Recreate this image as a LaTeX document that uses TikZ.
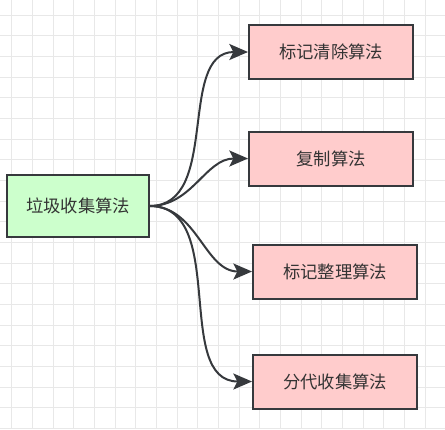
\documentclass[tikz,border=0pt]{standalone}
\usepackage{fontspec}
\setmainfont{Noto Sans CJK SC}
\usetikzlibrary{arrows.meta}
\definecolor{rootfill}{HTML}{CCFFCC}
\definecolor{algofill}{HTML}{FFCCCC}
\definecolor{edgegray}{HTML}{36393D}
\definecolor{gridgray}{HTML}{E8E8E8}
\begin{document}
\begin{tikzpicture}[x=0.75pt, y=-0.75pt,
    root/.style={draw=edgegray, line width=1.5pt, fill=rootfill, minimum width=106pt, minimum height=47pt, text=black!80, font=\fontsize{13}{15}\selectfont},
    algo/.style={draw=edgegray, line width=1.5pt, fill=algofill, minimum width=123pt, minimum height=40.5pt, text=black!80, font=\fontsize{13}{15}\selectfont},
    link/.style={draw=edgegray, line width=1.5pt, -{Stealth[length=14pt, width=12pt, inset=3pt]}}]
        \useasboundingbox (0,0) rectangle (445,429);
        \fill[white] (0,0) rectangle (445,429);

        % grid
        \foreach \i in {0,...,20} {
            \draw[gridgray, line width=0.6pt] ({11.7+20.67*\i},0) -- ++(0,429);
            \draw[gridgray, line width=0.6pt] (0,{15+20.67*\i}) -- ++(445,0);
        }

        \node[root] (gc) at (78,206) {垃圾收集算法};

        \node[algo] (mark) at (331,52) {标记清除算法};
        \node[algo] (copy) at (331,158.5) {复制算法};
        \node[algo] (compact) at (335,271.5) {标记整理算法};
        \node[algo] (gen) at (335,381.5) {分代收集算法};

        % connectors
        \draw[link] (gc.east) to[out=0, in=180] (mark.west);
        \draw[link] (gc.east) to[out=0, in=180] (copy.west);
        \draw[link] (gc.east) to[out=0, in=180] (compact.west);
        \draw[link] (gc.east) to[out=0, in=180] (gen.west);
    \end{tikzpicture}
\end{document}
